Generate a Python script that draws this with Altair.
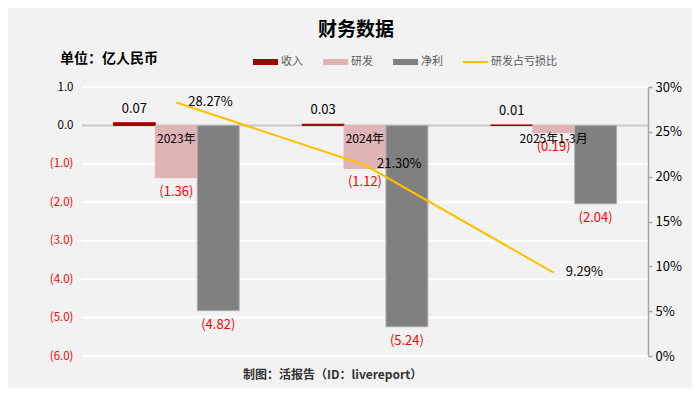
import altair as alt
import pandas as pd

categories = ["2023年", "2024年", "2025年1-3月"]
series = ["收入", "研发", "净利"]
revenue = [0.07, 0.03, 0.01]
rnd = [-1.36, -1.12, -0.19]
net = [-4.82, -5.24, -2.04]
ratio_name = "研发占亏损比"
ratio = [0.2827, 0.2130, 0.0929]
left_ticks = [1.0, 0.0, -1.0, -2.0, -3.0, -4.0, -5.0, -6.0]
right_ticks = [0, 0.05, 0.10, 0.15, 0.20, 0.25, 0.30]

colors = ["#A50000", "#E0B4B4", "#808080"]
line_color = "#FFC000"
FONT = "Noto Sans CJK SC"

rows = []
for i, c in enumerate(categories):
    for s, vals in zip(series, [revenue, rnd, net]):
        rows.append({"category": c, "series": s, "value": vals[i]})
bars_df = pd.DataFrame(rows)
line_df = pd.DataFrame({"category": categories, "ratio": ratio})
cat_df = pd.DataFrame({"category": categories})
grid_df = pd.DataFrame({"tick": left_ticks})
one = pd.DataFrame({"a": [0]})

xenc = alt.X("category:N", sort=categories, axis=None,
             scale=alt.Scale(paddingInner=1/3, paddingOuter=1/6))
xoff = alt.XOffset("series:N", sort=series, scale=alt.Scale(paddingInner=0, paddingOuter=0))
yscale = alt.Scale(domain=[-6, 1], nice=False, zero=False)

left_axis = alt.Axis(values=left_ticks, tickCount=8, labelOverlap=False,
                     domain=False, ticks=False, grid=False,
                     labelExpr="datum.value < 0 ? '(' + format(-datum.value, '.1f') + ')' : format(datum.value, '.1f')",
                     labelColor={"condition": {"test": "datum.value < 0", "value": "#FF0000"}, "value": "#000000"},
                     labelPadding=9, labelFontSize=11.5, labelFont=FONT)

grid_lines = alt.Chart(grid_df).mark_rule(strokeWidth=2).encode(
    y=alt.Y("tick:Q", scale=yscale, title=None, axis=left_axis),
    stroke=alt.condition("datum.tick == 0", alt.value("#C8C8C8"), alt.value("#FFFFFF")),
)

bars = alt.Chart(bars_df).mark_bar().encode(
    x=xenc, xOffset=xoff,
    y=alt.Y("value:Q", scale=yscale, title=None, axis=left_axis),
    color=alt.Color("series:N", scale=alt.Scale(domain=series, range=colors), legend=None),
    stroke=alt.Stroke("series:N", scale=alt.Scale(domain=series, range=["#A50000", "#E0B4B4", "#B0B0B0"]), legend=None),
)

labels_base = alt.Chart(bars_df).transform_calculate(
    label="datum.value < 0 ? '(' + format(-datum.value, '.2f') + ')' : format(datum.value, '.2f')"
)
pos_text = labels_base.transform_filter("datum.value > 0").mark_text(
    baseline="bottom", dy=-7, fontSize=13, font=FONT, color="#000000"
).encode(x=xenc, xOffset=xoff, y=alt.Y("value:Q", scale=yscale, title=None, axis=left_axis), text="label:N")
neg_text = labels_base.transform_filter("datum.value < 0").mark_text(
    baseline="top", dy=8, fontSize=13, font=FONT, color="#FF0000"
).encode(x=xenc, xOffset=xoff, y=alt.Y("value:Q", scale=yscale, title=None, axis=left_axis), text="label:N")

cat_text = alt.Chart(cat_df).mark_text(
    baseline="middle", dy=14, fontSize=12, font=FONT, color="#000000"
).encode(x=xenc, y=alt.datum(0, scale=yscale, title=None, axis=left_axis), text="category:N")

bar_group = alt.layer(grid_lines, bars, pos_text, neg_text, cat_text)

rscale = alt.Scale(domain=[0, 0.30], nice=False)
right_axis = alt.Axis(orient="right", values=right_ticks, format=".0%", grid=False,
                      labelOverlap=False,
                      domain=True, domainColor="#A6A6A6", domainWidth=1.5,
                      ticks=True, tickColor="#A6A6A6", tickSize=4, tickWidth=1.5,
                      labelPadding=3, labelFontSize=13, labelFont=FONT, labelColor="#000000")
line = alt.Chart(line_df).mark_line(color=line_color, strokeWidth=2).encode(
    x=xenc,
    y=alt.Y("ratio:Q", scale=rscale, title=None, axis=right_axis),
)
line_text = alt.Chart(line_df).mark_text(
    align="left", baseline="middle", dx=12, dy=-1, fontSize=13, font=FONT, color="#000000"
).encode(x=xenc, y=alt.Y("ratio:Q", scale=rscale, title=None, axis=right_axis),
         text=alt.Text("ratio:Q", format=".2%"))
line_group = alt.layer(line, line_text)

title = alt.Chart(one).mark_text(fontSize=19, fontWeight="bold", font=FONT, color="#000000",
                                 align="center", baseline="middle").encode(
    x=alt.value(274), y=alt.value(-57), text=alt.value("财务数据"))
unit = alt.Chart(one).mark_text(fontSize=14, fontWeight="bold", font=FONT, color="#000000",
                                align="left", baseline="middle").encode(
    x=alt.value(-22), y=alt.value(-28), text=alt.value("单位：亿人民币"))
footer = alt.Chart(one).mark_text(fontSize=12, fontWeight="bold", font=FONT, color="#333333",
                                  align="left", baseline="middle").encode(
    x=alt.value(161), y=alt.value(288), text=alt.value("制图：活报告（ID：livereport）"))

legend_layers = []
leg_names = series + [ratio_name]
leg_colors = colors + [line_color]
leg_x = [171, 241, 311, 381]
for name, col, lx in zip(leg_names, leg_colors, leg_x):
    if name == ratio_name:
        sw = alt.Chart(one).mark_rule(color=col, strokeWidth=2).encode(
            x=alt.value(lx), x2=alt.value(lx + 25), y=alt.value(-25))
    else:
        sw = alt.Chart(one).mark_rect(color=col).encode(
            x=alt.value(lx), x2=alt.value(lx + 25), y=alt.value(-28), y2=alt.value(-22))
    tx = alt.Chart(one).mark_text(fontSize=11, font=FONT, color="#595959",
                                  align="left", baseline="middle").encode(
        x=alt.value(lx + 28), y=alt.value(-25), text=alt.value(name))
    legend_layers += [sw, tx]

chart = alt.layer(bar_group, line_group, title, unit, footer, *legend_layers).resolve_scale(
    y="independent"
).properties(
    width=566, height=269,
    autosize=alt.AutoSizeParams(type="none"),
    padding={"left": 74, "top": 79, "right": 44, "bottom": 32},
    background="#F2F2F2",
).configure_view(stroke=None)

chart.save("out.html", embed_options={"renderer": "svg", "actions": False})
